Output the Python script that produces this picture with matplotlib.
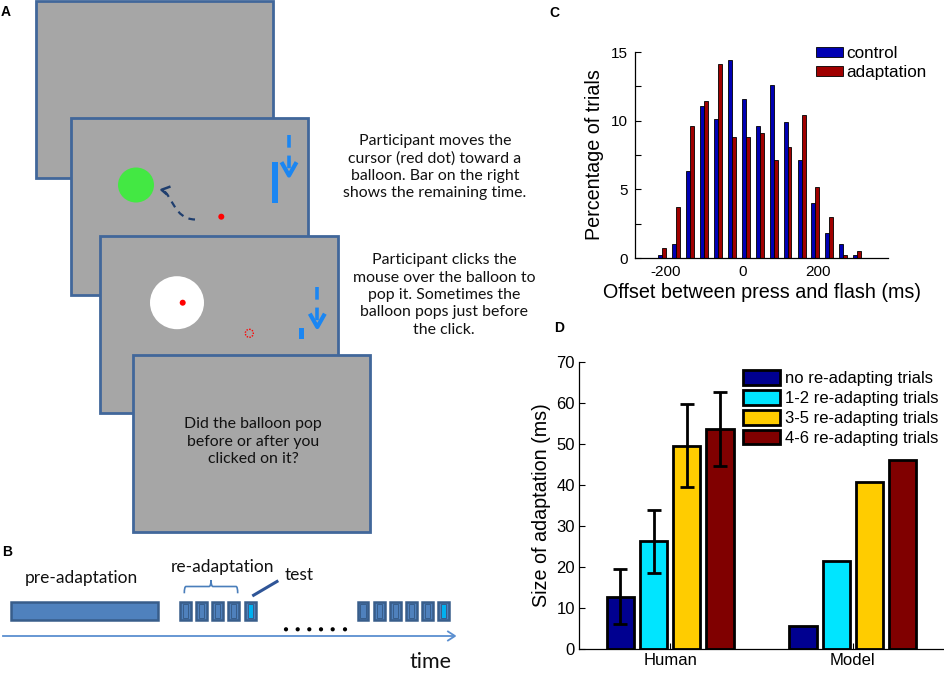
import matplotlib
matplotlib.use("Agg")
import matplotlib.pyplot as plt
from matplotlib.patches import Rectangle, Ellipse, Circle
from matplotlib.path import Path
from matplotlib.patches import PathPatch
import numpy as np

# ---------------- data ----------------
# Panel C histogram
offset_centers = [-210, -174, -137, -100, -64, -27, 10, 46, 83, 119, 156, 192, 229, 265, 302]
control_pct = [0.25, 1.0, 6.3, 11.1, 10.1, 14.4, 11.6, 9.6, 12.6, 9.9, 7.1, 4.0, 1.8, 1.0, 0.2]
adaptation_pct = [0.7, 3.7, 9.6, 11.4, 14.1, 8.8, 8.8, 9.1, 7.1, 8.1, 10.4, 5.2, 3.0, 0.2, 0.5]
c_series = ["control", "adaptation"]
c_xticks = [-200, 0, 200]
c_yticks = [0, 5, 10, 15]

# Panel D bars
d_groups = ["Human", "Model"]
d_series = ["no re-adapting trials", "1-2 re-adapting trials",
            "3-5 re-adapting trials", "4-6 re-adapting trials"]
human_vals = [12.8, 26.3, 49.6, 53.7]
human_err = [6.8, 7.7, 10.2, 9.0]
model_vals = [5.7, 21.4, 40.8, 46.0]
d_yticks = [0, 10, 20, 30, 40, 50, 60, 70]

# Panel A/B texts
text_move = "Participant moves the\ncursor (red dot) toward a\nballoon. Bar on the right\nshows the remaining time."
text_click = "Participant clicks the\nmouse over the balloon to\npop it. Sometimes the\nballoon pops just before\nthe click."
text_question = "Did the balloon pop\nbefore or after you\nclicked on it?"

W, H = 945, 673
fig = plt.figure(figsize=(W / 100, H / 100), dpi=100)
fig.patch.set_facecolor("white")

# ---------------- drawing canvas (pixel coords) ----------------
cv = fig.add_axes([0, 0, 1, 1])
cv.set_xlim(0, W)
cv.set_ylim(H, 0)
cv.axis("off")

SCREEN_FILL = "#a6a6a6"
SCREEN_EDGE = "#41679a"
BRIGHT_BLUE = "#1b86f2"
NAVY = "#1f3e6e"

screens = [(35.7, 1, 272.7, 178), (71, 118.3, 308.3, 295),
           (100, 236, 337.7, 413.3), (132.7, 355, 370, 532.3)]
for i, (x0, y0, x1, y1) in enumerate(screens):
    cv.add_patch(Rectangle((x0, y0), x1 - x0, y1 - y0, facecolor=SCREEN_FILL,
                           edgecolor=SCREEN_EDGE, lw=2.0, zorder=2 + i * 10))

# screen 2 content
z = 13
cv.add_patch(Ellipse((136, 185), 36, 35, facecolor="#43e843", edgecolor="none", zorder=z))
cv.add_patch(Circle((221.3, 216.7), 3, facecolor="red", edgecolor="none", zorder=z))
cv.add_patch(Rectangle((272.3, 161.7), 6, 41.6, facecolor=BRIGHT_BLUE, edgecolor="none", zorder=z))
curve = Path([(195, 219.5), (174, 219), (172, 195), (163, 190.5)],
             [Path.MOVETO, Path.CURVE4, Path.CURVE4, Path.CURVE4])
cv.add_patch(PathPatch(curve, facecolor="none", edgecolor=NAVY, lw=1.6,
                       linestyle=(0, (3, 2.5)), zorder=z))
cv.plot([170.5, 161.5, 167], [186.5, 189.8, 194.5], color=NAVY, lw=1.8, zorder=z,
        solid_capstyle="butt")
cv.plot([289, 289], [135, 170], color=BRIGHT_BLUE, lw=2.6, linestyle=(0, (3.5, 2.2)), zorder=z)
cv.plot([282.5, 289, 295.5], [164, 175.5, 164], color=BRIGHT_BLUE, lw=3.0, zorder=z)

# screen 3 content
z = 23
cv.add_patch(Ellipse((177, 302.7), 54, 53, facecolor="white", edgecolor="none", zorder=z))
cv.add_patch(Circle((182.7, 302.7), 3, facecolor="red", edgecolor="none", zorder=z))
cv.add_patch(Circle((249.3, 333.3), 4.0, facecolor="none", edgecolor="red", lw=1.0,
                    linestyle=(0, (1, 1)), zorder=z))
cv.add_patch(Rectangle((298.7, 327.7), 5.3, 11.3, facecolor=BRIGHT_BLUE, edgecolor="none", zorder=z))
cv.plot([317.3, 317.3], [286.7, 322], color=BRIGHT_BLUE, lw=2.6, linestyle=(0, (3.5, 2.2)), zorder=z)
cv.plot([310.8, 317.3, 323.8], [315.5, 327, 315.5], color=BRIGHT_BLUE, lw=3.0, zorder=z)

# screen texts
tfont = dict(family=["Lato", "DejaVu Sans"], fontsize=11.4, color="#111111")
cv.text(253.3, 441.7, text_question, ha="center", va="center", linespacing=1.3,
        zorder=40, **tfont)
cv.text(435, 167, text_move, ha="center", va="center", linespacing=1.3, **tfont)
cv.text(444, 295, text_click, ha="center", va="center", linespacing=1.3, **tfont)

# panel labels
lab = dict(family=["Liberation Sans", "DejaVu Sans"], fontsize=10, fontweight="bold",
           ha="center", va="center")
cv.text(6, 12, "A", **lab)
cv.text(6.7, 551.7, "B", **lab)
cv.text(554, 13.3, "C", **lab)
cv.text(559, 328, "D", **lab)

# ---------------- panel B ----------------
BAR_FILL = "#4f81bd"
BAR_EDGE = "#385d8a"
bfont = dict(family=["Lato", "DejaVu Sans"], color="#111111")
cv.add_patch(Rectangle((10.7, 601.7), 147, 18.3, facecolor=BAR_FILL, edgecolor=BAR_EDGE, lw=1.8))
box_left_1 = [180, 196, 212.3, 228.3, 245]
box_left_2 = [357.7, 374, 390, 406, 422.3, 438.3]
for grp in (box_left_1, box_left_2):
    for j, xl in enumerate(grp):
        last = j == len(grp) - 1
        cv.add_patch(Rectangle((xl, 601.7), 10.6, 18.3, facecolor=BAR_FILL,
                               edgecolor=BAR_EDGE, lw=1.8))
        cv.add_patch(Rectangle((xl + 2.6, 604.2), 5.4, 13.3,
                               facecolor="#00b0f0" if last else BAR_FILL,
                               edgecolor=BAR_EDGE, lw=0.7))
cv.text(81.7, 578.3, "pre-adaptation", ha="center", va="center", fontsize=12.5, **bfont)
cv.text(222.5, 566.7, "re-adaptation", ha="center", va="center", fontsize=12.5, **bfont)
cv.text(299.5, 575, "test", ha="center", va="center", fontsize=12.5, **bfont)
cv.text(431, 661.5, "time", ha="center", va="center", fontsize=15.5, **bfont)
# brace
brace = Path([(184.3, 593.3), (184.3, 586.5), (186, 586.5), (209, 586.5),
              (211, 586.5), (211, 580), (211, 580), (211, 586.5), (213, 586.5),
              (236, 586.5), (237.7, 586.5), (237.7, 593.3)],
             [Path.MOVETO, Path.CURVE3, Path.CURVE3, Path.LINETO, Path.CURVE3, Path.CURVE3,
              Path.MOVETO, Path.CURVE3, Path.CURVE3, Path.LINETO, Path.CURVE3, Path.CURVE3])
cv.add_patch(PathPatch(brace, facecolor="none", edgecolor="#4a7ebb", lw=1.2))
cv.plot([252.3, 278.3], [596, 580.7], color="#2f5597", lw=2.2, solid_capstyle="butt")
for xd in [286, 297.7, 309.3, 321, 332.7, 345]:
    cv.add_patch(Circle((xd, 629.3), 2.1, facecolor="black", edgecolor="none"))
cv.plot([3.3, 454], [636, 636], color="#5b8fd0", lw=1.3)
cv.plot([448, 455, 448], [631.5, 636, 640.5], color="#5b8fd0", lw=1.3)

# ---------------- panel C ----------------
arial = ["Liberation Sans", "DejaVu Sans"]
axC = fig.add_axes([635 / W, 1 - 258 / H, (888.3 - 635) / W, (258 - 52) / H])
pitch = 10.4
xc = np.array(offset_centers, dtype=float)
axC.bar(xc - pitch / 2, control_pct, width=pitch, color="#0000b4", edgecolor="black",
        lw=0.6, label=c_series[0])
axC.bar(xc + pitch / 2, adaptation_pct, width=pitch, color="#a00000", edgecolor="black",
        lw=0.6, label=c_series[1])
axC.set_xlim(-281.5, 383.6)
axC.set_ylim(0, 15)
axC.set_xticks(c_xticks)
axC.set_yticks(c_yticks)
axC.set_yticks([2.5, 7.5, 12.5], minor=True)
axC.set_xticklabels([str(t) for t in c_xticks], family=arial, fontsize=11)
axC.set_yticklabels([str(t) for t in c_yticks], family=arial, fontsize=11)
axC.tick_params(which="both", direction="in", length=4, width=0.8, pad=5)
axC.tick_params(axis="x", length=0)
for s in ["top", "right"]:
    axC.spines[s].set_visible(False)
for s in ["left", "bottom"]:
    axC.spines[s].set_linewidth(0.9)
axC.set_ylabel("Percentage of trials", family=arial, fontsize=14.2, labelpad=5)
axC.set_xlabel("Offset between press and flash (ms)", family=arial, fontsize=14.2, labelpad=3)
axC.legend(loc="upper left", bbox_to_anchor=(816 / W, 1 - 46 / H),
           bbox_transform=fig.transFigure, frameon=False,
           prop=dict(family=arial, size=12.3), handlelength=1.6, handleheight=0.5,
           handletextpad=0.2, labelspacing=0.25, borderaxespad=0, borderpad=0)

# ---------------- panel D ----------------
axD = fig.add_axes([579 / W, 1 - 649 / H, (944 - 579) / W, (649 - 362) / H])
d_colors = ["#000090", "#00e5ff", "#ffcc00", "#800000"]
n = len(d_series)
gw = min(0.8, n / (n + 1.5))
bp = gw / n
gx = np.arange(1, len(d_groups) + 1)
for k in range(n):
    vals = [human_vals[k], model_vals[k]]
    pos = gx - gw / 2 + bp * (k + 0.5)
    axD.bar(pos, vals, width=bp * 0.82, color=d_colors[k], edgecolor="black", lw=2.0,
            label=d_series[k], zorder=2)
    axD.errorbar(pos[0], human_vals[k], yerr=human_err[k], fmt="none", ecolor="black",
                 elinewidth=2.0, capsize=5, capthick=2.0, zorder=3)
axD.set_xlim(0.5, 2.5)
axD.set_ylim(0, 70)
axD.set_xticks(gx)
axD.set_xticklabels(d_groups, family=arial, fontsize=12)
axD.set_yticks(d_yticks)
axD.set_yticklabels([str(t) for t in d_yticks], family=arial, fontsize=12)
axD.tick_params(direction="in", length=4, width=0.8, pad=3)
for s in ["top", "right"]:
    axD.spines[s].set_visible(False)
for s in ["left", "bottom"]:
    axD.spines[s].set_linewidth(0.9)
axD.set_ylabel("Size of adaptation (ms)", family=arial, fontsize=14.2, labelpad=4)
leg = axD.legend(loc="upper left", bbox_to_anchor=(743 / W, 1 - 370 / H),
                 bbox_transform=fig.transFigure, frameon=False,
                 prop=dict(family=arial, size=12), handlelength=2.2, handleheight=1.0,
                 handletextpad=0.3, labelspacing=0.22, borderaxespad=0, borderpad=0)
for p in leg.get_patches():
    p.set_linewidth(2.0)

fig.savefig("out.png", dpi=100, facecolor="white")
